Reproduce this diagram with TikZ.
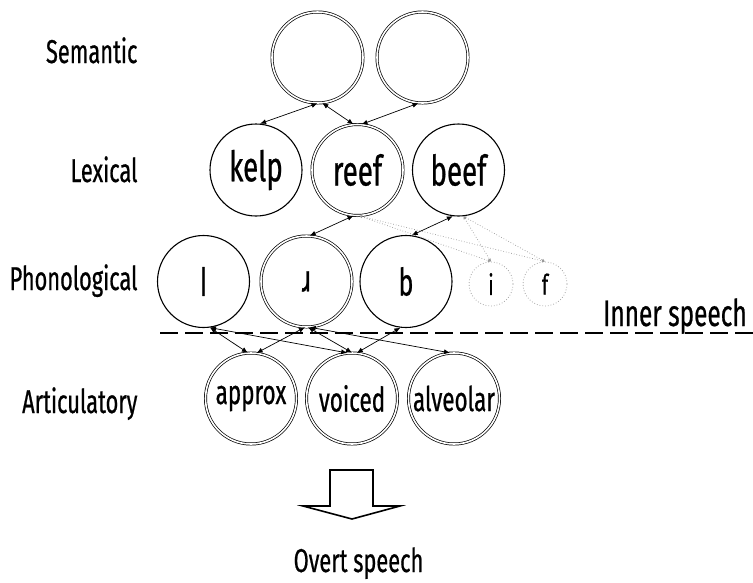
\documentclass[tikz,border=0pt]{standalone}
\usepackage{fontspec}
\setmainfont[FakeStretch=0.66, FakeBold=0.6]{Fira Sans}
\newfontfamily\plainl[FakeStretch=0.66, FakeBold=0.6]{Open Sans}
\usetikzlibrary{arrows.meta}
\tikzset{
  circ/.style={circle, draw, line width=1.1pt, minimum size=92pt, inner sep=0pt},
  dcirc/.style={circle, draw, line width=0.7pt, double=white, double distance=1.6pt, minimum size=91pt, inner sep=0pt},
  smallc/.style={circle, draw=gray!70, dotted, line width=0.8pt, minimum size=44pt, inner sep=0pt, font=\fontsize{28}{32}\selectfont},
  conn/.style={{Latex[length=6pt,width=5pt]}-{Latex[length=6pt,width=5pt]}, line width=0.7pt},
  dconn/.style={{Latex[length=3pt,width=3pt]}-{Latex[length=3pt,width=3pt]}, gray!80, dotted, line width=0.7pt},
  lab/.style={anchor=base east, font=\fontsize{33}{38}\selectfont},
  big/.style={font=\fontsize{42}{46}\selectfont},
  mid/.style={font=\fontsize{38}{42}\selectfont},
  art/.style={font=\fontsize{34}{38}\selectfont},
}
\begin{document}
\begin{tikzpicture}[x=1pt,y=-1pt]
\useasboundingbox (0,0) rectangle (753,582);
% labels
\node[lab] (lsem) at (141,63) {Semantic};
\node[lab] (llex) at (141,182) {Lexical};
\node[lab] (lpho) at (141,290) {Phonological};
\node[lab] (lart) at (141,413) {Articulatory};
% semantic
\node[dcirc] (s1) at (317.5,57.5) {};
\node[dcirc] (s2) at (422.5,57.5) {};
% lexical
\node[circ, big] (kelp) at (256,170) {kelp};
\node[dcirc, big] (reef) at (357.5,170) {reef};
\node[circ, big] (beef) at (458.5,170) {beef};
% phonological
\node[circ, mid] (l) at (203.5,281.5) {\plainl l};
\node[dcirc, mid] (r) at (306.5,281.5) {ɹ};
\node[circ, mid] (b) at (406,281.5) {b};
\node[smallc] (i) at (491,284) {i};
\node[smallc] (f) at (545,284) {f};
% articulatory
\node[dcirc, art] (ap) at (251,398.5) {approx};
\node[dcirc, art] (vo) at (352,398.5) {voiced};
\node[dcirc, art] (al) at (454,398.5) {alveolar};
% inner speech line
\coordinate (dl) at (160,333);
\coordinate (dr) at (753,333);
\draw[line width=2pt, dash pattern=on 18pt off 7pt] (dl) -- (dr);
\node[anchor=base west, font=\fontsize{37}{40}\selectfont, inner sep=0pt] (inner) at (603,326) {Inner speech};
% semantic - lexical
\draw[conn] (s1.-90) -- (kelp.85);
\draw[conn] (s1.-84) -- (reef.95);
\draw[conn] (s2.-95) -- (reef.85);
% lexical - phonological
\draw[conn] (reef.-95) -- (r.86);
\draw[conn] (beef.-97) -- (b.83);
\draw[dconn] (reef.-88) -- (i.90);
\draw[dconn] (reef.-88) -- (f.90);
\draw[dconn] (beef.-84) -- (i.90);
\draw[dconn] (beef.-84) -- (f.90);
% phonological - articulatory
\draw[conn] (l.-82) -- (ap.94);
\draw[conn] (l.-82) -- (vo.96);
\draw[conn] (r.-92) -- (ap.83);
\draw[conn] (r.-88) -- (vo.90);
\draw[conn] (r.-86) -- (al.95);
\draw[conn] (b.-97) -- (vo.84);
% overt arrow
\draw[line width=1.6pt, line join=miter] (330,470) -- (373,470) -- (373,506) -- (400,506) -- (352,519) -- (303,506) -- (330,506) -- cycle;
\node[anchor=base, font=\fontsize{33}{38}\selectfont] (overt) at (358.5,572) {Overt speech};
\end{tikzpicture}
\end{document}
